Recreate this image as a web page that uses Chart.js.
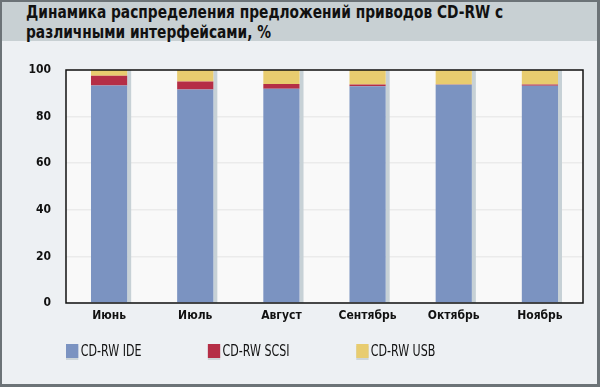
<!DOCTYPE html>
<html>
<head>
<meta charset="utf-8">
<script src="https://cdn.jsdelivr.net/npm/chart.js@4"></script>
<style>
  html, body { margin: 0; padding: 0; }
  body { width: 600px; height: 387px; overflow: hidden; }
  .frame {
    position: relative; width: 600px; height: 387px; box-sizing: border-box;
    background: #edf0f3;
    border-style: solid; border-color: #6c7377;
    border-width: 2px 3px 3px 2px;
  }
  .title {
    position: absolute; left: 0; top: 0; right: 0; height: 39px;
    background: #c8d0d3;
  }
  .title h1 {
    margin: 0; position: absolute; left: 24px; top: 0px; white-space: nowrap;
    font: bold 17px/20px "DejaVu Sans Condensed", sans-serif;
    color: #111; transform: scaleX(0.9); transform-origin: 0 0;
  }
  #wrap { position: absolute; left: -2px; top: -2px; width: 600px; height: 387px; }
  .legend {
    position: absolute; left: 64px; top: 340px; display: flex; white-space: nowrap;
    font: 15px "DejaVu Sans Condensed", sans-serif; color: #111;
    transform: scaleX(0.82); transform-origin: 0 0;
  }
  .legend .item { display: flex; align-items: center; margin-right: 81px; }
  .legend .box { width: 15px; height: 14px; margin-right: 3px; box-shadow: 0 2px 0 #cdd5d9; }
</style>
</head>
<body>
<div class="frame">
  <div class="title"><h1>Динамика распределения предложений приводов CD-RW с<br>различными интерфейсами, %</h1></div>
  <div id="wrap"><canvas id="chart-c" width="600" height="387"></canvas></div>
  <div class="legend" id="legend"></div>
</div>
<script>
const months = ["Июнь", "Июль", "Август", "Сентябрь", "Октябрь", "Ноябрь"];
const ideShare = [93.3, 91.6, 92.0, 93.0, 93.7, 93.2];
const scsiShare = [4.2, 3.5, 2.0, 0.8, 0.1, 0.6];
const usbShare = [2.5, 4.9, 6.0, 6.2, 6.2, 6.2];
const yTicks = [0, 20, 40, 60, 80, 100];

const tickFont = { family: "'DejaVu Sans Condensed', sans-serif", size: 12, weight: "bold" };

// plot background, frame and the pale strip to the right of every bar
const plotDecor = {
  id: "plotDecor",
  beforeDraw(chart) {
    const { ctx, chartArea: a } = chart;
    ctx.save();
    ctx.fillStyle = "#f9f9f9";
    ctx.fillRect(a.left, a.top, a.right - a.left, a.bottom - a.top);
    ctx.restore();
  },
  beforeDatasetsDraw(chart) {
    const { ctx } = chart;
    const top = chart.getDatasetMeta(chart.data.datasets.length - 1);
    const base = chart.scales.y.getPixelForValue(0);
    ctx.save();
    ctx.fillStyle = "#c7d1d6";
    top.data.forEach((bar) => {
      ctx.fillRect(bar.x + bar.width / 2, bar.y, 4, base - bar.y);
    });
    ctx.restore();
  },
  afterDraw(chart) {
    const { ctx, chartArea: a } = chart;
    ctx.save();
    ctx.strokeStyle = "#111";
    ctx.lineWidth = 1.5;
    ctx.strokeRect(a.left, a.top, a.right - a.left, a.bottom - a.top);
    ctx.restore();
  },
};

const chartData = {
  labels: months,
  datasets: [
    { label: "CD-RW IDE", data: ideShare, backgroundColor: "#7b93c1" },
    { label: "CD-RW SCSI", data: scsiShare, backgroundColor: "#b52e46" },
    { label: "CD-RW USB", data: usbShare, backgroundColor: "#e8cc6f" },
  ],
};

const chart = new Chart(document.getElementById("chart-c"), {
  type: "bar",
  data: chartData,
  options: {
    responsive: false,
    animation: false,
    layout: { padding: { left: 4, right: 17, top: 70, bottom: 64 } },
    datasets: { bar: { barPercentage: 0.42, categoryPercentage: 1, borderWidth: 0 } },
    plugins: { legend: { display: false }, title: { display: false }, tooltip: { enabled: false } },
    scales: {
      x: {
        stacked: true,
        afterFit: function (scale) {
          scale.height = 20;
        },
        grid: { display: false, drawTicks: false },
        border: { display: false },
        ticks: { color: "#111", font: tickFont, padding: 6 },
      },
      y: {
        stacked: true,
        min: 0,
        max: 100,
        afterFit: function (scale) {
          scale.width = 62;
        },
        afterBuildTicks: function (scale) {
          scale.ticks = yTicks.map((v) => ({ value: v }));
        },
        grid: { color: "#ebebeb", lineWidth: 1.5, drawTicks: false },
        border: { display: false },
        ticks: { color: "#111", font: tickFont, padding: 15 },
      },
    },
  },
  plugins: [plotDecor],
});

// legend from the datasets
const legendEl = document.getElementById("legend");
chartData.datasets.forEach((ds) => {
  const item = document.createElement("span");
  item.className = "item";
  const box = document.createElement("span");
  box.className = "box";
  box.style.background = ds.backgroundColor;
  item.appendChild(box);
  item.appendChild(document.createTextNode(ds.label));
  legendEl.appendChild(item);
});
</script>
</body>
</html>
